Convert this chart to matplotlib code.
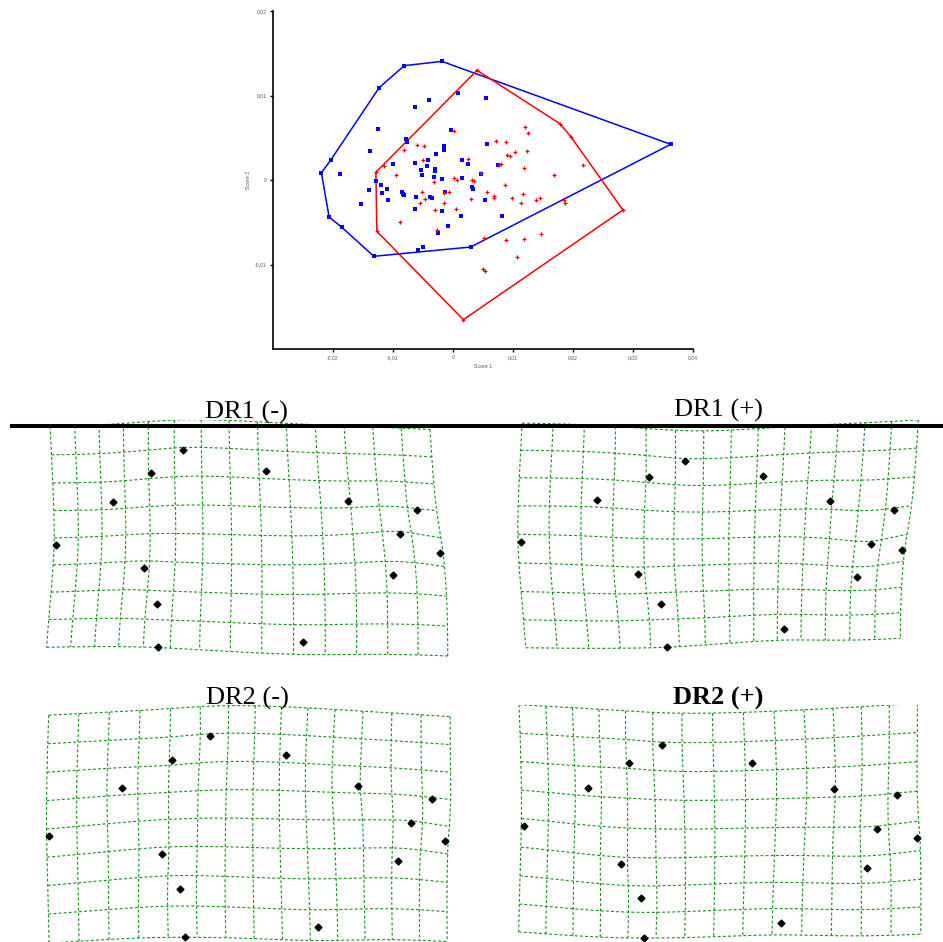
import numpy as np
import matplotlib
matplotlib.use("Agg")
import matplotlib.pyplot as plt
from matplotlib.lines import Line2D

# ---- scatter data (scores in units of 1e-3) ----
blue_hull_x = [-1.84, -8.12, -12.30, -20.37, -21.93, -20.65, -18.53, -13.19, 2.95, 36.28]
blue_hull_y = [14.04, 13.53, 10.93, 2.37, 0.87, -4.38, -5.60, -9.03, -7.93, 4.22]
blue_x = [0.89, 5.56, -4.01, -6.29, -12.58, -0.33, -7.79, -7.68, -13.80, -1.45, -1.45, 5.73,
          -2.78, 1.56, 2.56, -4.12, -6.40, -4.40, -10.07, -5.29, -3.06, -3.06, -5.18, -3.17,
          -18.81, 4.67, 1.45, -1.84, -12.85, -12.02, -13.97, -11.07, -11.91, -8.57, -8.40,
          -8.12, -1.39, 3.12, 3.28, -6.12, -10.80, -3.84, -3.56, -15.41, 5.40, 7.51, -6.29,
          -1.78, 1.34, 8.12, -0.78, -2.45, -4.95, -5.79]
blue_y = [10.30, 9.66, 9.43, 8.68, 6.07, 5.96, 4.81, 4.54, 3.39, 4.02, 3.51, 4.26,
          3.04, 2.37, 1.93, 2.37, 1.97, 1.66, 1.85, 1.18, 1.30, 1.10, 0.55, 0.36,
          0.67, 0.71, 0.20, 0.08, -0.12, -0.55, -1.18, -1.03, -1.54, -1.46, -1.62,
          -1.78, -1.46, -0.87, -1.10, -1.97, -2.37, -2.05, -2.17, -2.88, -2.41, 1.74, -3.47,
          -3.71, -4.26, -4.26, -5.44, -6.23, -7.89, -8.24]

red_hull_x = [4.01, 17.81, 19.64, 28.32, 1.73, -12.69, -12.85]
red_hull_y = [12.98, 6.67, 5.13, -3.55, -16.53, -6.07, 0.91]
red_x = [0.22, -6.07, -4.90, 7.12, 8.79, 12.08, 12.52, -8.24, -5.06, 2.56, 8.96, 9.52,
         10.41, 12.35, 8.01, 7.74, 21.65, -11.52, 11.80, 4.62, 16.81, -9.52, 0.11, 0.72,
         3.17, 3.51, -3.12, 8.68, -5.23, -1.56, -0.72, 5.73, 6.79, 6.90, 11.69, 3.01,
         9.85, -4.73, -5.56, -1.56, 13.80, 14.47, 18.42, 18.75, 11.41, -3.06, 0.56,
         -8.85, -2.67, 5.23, 8.79, 11.85, 14.69, 10.63, 4.95, 5.40]
red_y = [5.84, 4.18, 4.02, 4.62, 4.46, 6.27, 5.60, 3.59, 2.41, 2.45, 3.00, 2.80,
         3.31, 3.47, 1.93, 1.78, 1.81, 1.70, 1.38, 0.79, 0.59, 0.55, 0.24, 0.00,
         0.04, -0.16, -0.20, -0.59, -1.46, -1.58, -1.46, -1.42, -1.89, -2.13, -1.70, -2.25,
         -2.17, -2.29, -2.72, -2.72, -2.41, -2.09, -2.37, -2.72, -2.72, -3.51, -3.43,
         -5.01, -5.92, -6.86, -7.06, -6.94, -6.35, -9.11, -10.57, -10.73]

x_ticks = [-0.02, -0.01, 0, 0.01, 0.02, 0.03, 0.04]
y_ticks = [-0.01, 0, 0.01, 0.02]

# ---- deformation grids: landmark positions (panel-local units) ----
titles = ["DR1 (-)", "DR1 (+)", "DR2 (-)", "DR2 (+)"]
lm_dr1_neg = [(183.0, 450.0), (151.0, 473.0), (265.7, 471.0), (113.0, 502.3), (348.3, 500.7),
              (416.7, 510.0), (56.3, 545.0), (400.0, 534.0), (440.0, 553.3), (143.7, 568.0),
              (392.7, 575.3), (157.3, 604.0), (303.0, 641.7), (158.3, 647.3)]
lm_dr1_pos = [(214.7, 461.0), (179.0, 477.3), (292.7, 475.7), (126.7, 499.7), (360.3, 501.3),
              (423.7, 509.7), (50.7, 542.0), (400.7, 544.0), (432.0, 550.0), (168.0, 574.0),
              (387.0, 577.0), (191.0, 604.3), (314.3, 628.7), (197.3, 647.0)]
lm_dr2_neg = [(209.7, 451.3), (172.3, 474.7), (285.7, 470.0), (121.7, 503.0), (358.3, 501.0),
              (431.7, 514.0), (49.3, 551.3), (411.3, 538.3), (445.3, 556.3), (162.3, 569.3),
              (398.0, 576.0), (180.0, 604.0), (318.3, 642.3), (184.7, 652.0)]
lm_dr2_pos = [(192.0, 459.7), (159.0, 477.7), (282.3, 477.7), (118.0, 503.3), (363.7, 504.0),
              (427.0, 509.7), (53.7, 541.3), (406.7, 544.0), (446.7, 553.0), (151.3, 579.3),
              (397.3, 583.0), (171.0, 613.0), (311.0, 638.3), (173.7, 652.7)]


def tps(src, dst):
    # thin-plate spline from consensus landmarks to a target configuration
    n = len(src)
    d = np.linalg.norm(src[:, None] - src[None], axis=2)
    K = np.where(d > 0, d ** 2 * np.log(d + 1e-12), 0)
    P = np.hstack([np.ones((n, 1)), src])
    L = np.zeros((n + 3, n + 3))
    L[:n, :n] = K
    L[:n, n:] = P
    L[n:, :n] = P.T
    rhs = np.zeros((n + 3, 2))
    rhs[:n] = dst
    W = np.linalg.solve(L, rhs)

    def f(pts):
        dd = np.linalg.norm(pts[:, None] - src[None], axis=2)
        U = np.where(dd > 0, dd ** 2 * np.log(dd + 1e-12), 0)
        return U @ W[:n] + np.hstack([np.ones((len(pts), 1)), pts]) @ W[n:]
    return f


fig = plt.figure(figsize=(9.43, 9.42), dpi=100)

# ---- top scatter ----
ax = fig.add_axes([273 / 943, 1 - 349 / 942, 420 / 943, 338 / 942])
s = 1e-3
for hx, hy, px, py, col, mk in [(blue_hull_x, blue_hull_y, blue_x, blue_y, "blue", "s"),
                                 (red_hull_x, red_hull_y, red_x, red_y, "red", "+")]:
    hx2 = np.array(hx + hx[:1]) * s
    hy2 = np.array(hy + hy[:1]) * s
    ax.plot(hx2, hy2, color=col, lw=1.1, zorder=2)
    allx = np.array(hx + px) * s
    ally = np.array(hy + py) * s
    if mk == "s":
        ax.plot(allx, ally, ls="none", marker="s", ms=2.2, color=col, mew=0, zorder=3)
    else:
        ax.plot(allx, ally, ls="none", marker="+", ms=3.3, color=col, mew=0.9, zorder=3)

ax.set_xlim(-0.03, 0.04)
ax.set_ylim(-0.02, 0.02)
ax.spines["top"].set_visible(False)
ax.spines["right"].set_visible(False)
for sp in ["left", "bottom"]:
    ax.spines[sp].set_linewidth(1.2)
fmt = lambda v: "0" if v == 0 else f"{v:.2f}".replace(".", ",")
ax.set_xticks(x_ticks)
ax.set_xticklabels([fmt(v) for v in x_ticks])
ax.set_yticks(y_ticks)
ax.set_yticklabels([fmt(v) for v in y_ticks])
ax.tick_params(length=2.5, width=1.0, labelsize=3.6, labelcolor="#555555", pad=2)
for lab in ax.get_xticklabels() + ax.get_yticklabels():
    lab.set_family("Liberation Sans")
ax.set_xlabel("Score 1", fontsize=3.8, color="#555555", labelpad=3, family="Liberation Sans")
ax.set_ylabel("Score 2", fontsize=3.8, color="#555555", labelpad=3, family="Liberation Sans")

# ---- deformation grids ----
configs = [np.array(c) for c in (lm_dr1_neg, lm_dr1_pos, lm_dr2_neg, lm_dr2_pos)]
consensus = np.mean(configs, axis=0)
gx0, gx1, gy1, ncol, nrow = 50.0, 444.0, 650.0, 14, 8
cell = (gx1 - gx0) / ncol
gy0 = gy1 - nrow * cell
xs = np.linspace(gx0, gx1, ncol + 1)
ys = np.linspace(gy0, gy1, nrow + 1)
tx = np.linspace(gx0, gx1, 120)
ty = np.linspace(gy0, gy1, 80)

col_off, row_off = 470, 285
title_pos = [(246.7, 418.3), (718.0, 417.0), (247.0, 705.0), (718.0, 705.0)]
for k, cfg in enumerate(configs):
    r, c = divmod(k, 2)
    pax = fig.add_axes([(40 + c * col_off) / 943, 1 - (660 + r * row_off) / 942,
                        420 / 943, 240 / 942])
    warp = tps(consensus, cfg)
    for yv in ys:
        pts = warp(np.column_stack([tx, np.full_like(tx, yv)]))
        pax.plot(pts[:, 0], pts[:, 1], color="#119411", lw=0.8, dashes=(2.6, 2.0))
    for xv in xs:
        pts = warp(np.column_stack([np.full_like(ty, xv), ty]))
        pax.plot(pts[:, 0], pts[:, 1], color="#119411", lw=0.8, dashes=(2.6, 2.0))
    pax.plot(cfg[:, 0], cfg[:, 1], ls="none", marker="D", ms=3.5, color="black", zorder=5)
    pax.set_xlim(40, 460)
    pax.set_ylim(660, 420)
    pax.axis("off")
    tx_, ty_ = title_pos[k]
    fig.text(tx_ / 943, 1 - ty_ / 942, titles[k], ha="center", va="baseline",
             fontsize=19, family="Liberation Serif",
             fontweight="bold" if k == 3 else "normal")

fig.add_artist(Line2D([12 / 943, 1], [1 - 426 / 942] * 2, transform=fig.transFigure,
                      color="black", lw=2.9, zorder=10))

fig.savefig("out.png", dpi=100)
